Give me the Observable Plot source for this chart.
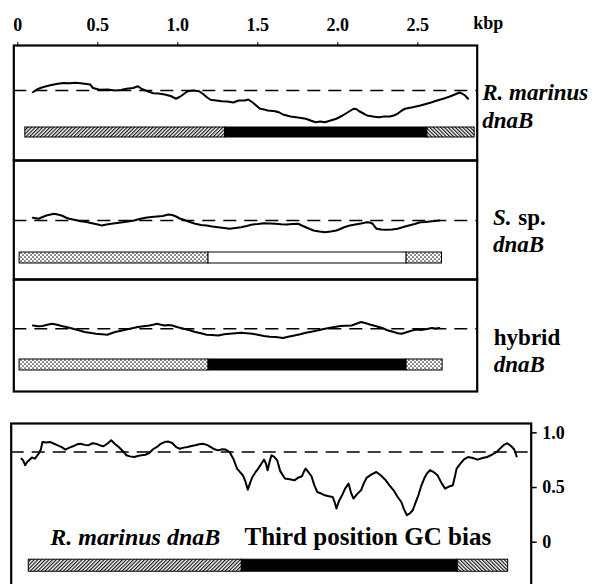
<!DOCTYPE html>
<html><head><meta charset="utf-8">
<script src="https://cdn.jsdelivr.net/npm/d3@7"></script>
<script src="https://cdn.jsdelivr.net/npm/@observablehq/plot@0.6"></script>
<style>
body{margin:0;background:#fff}
#wrap{position:relative;width:595px;height:584px;overflow:hidden;background:#fff}
#wrap svg{position:absolute;left:0;overflow:visible;background:transparent}
</style></head><body>
<svg width="0" height="0" style="position:absolute"><defs>
<pattern id="hatchF" patternUnits="userSpaceOnUse" width="2.6" height="2.6" patternTransform="rotate(45)">
<rect width="2.6" height="2.6" fill="white"/><line x1="0.6" y1="0" x2="0.6" y2="2.6" stroke="black" stroke-width="1.1"/></pattern>
<pattern id="hatchB" patternUnits="userSpaceOnUse" width="2.6" height="2.6" patternTransform="rotate(-45)">
<rect width="2.6" height="2.6" fill="white"/><line x1="0.6" y1="0" x2="0.6" y2="2.6" stroke="black" stroke-width="1.1"/></pattern>
<pattern id="dots" patternUnits="userSpaceOnUse" width="4" height="4">
<rect width="4" height="4" fill="white"/><circle cx="1" cy="1" r="0.85" fill="#222"/><circle cx="3" cy="3" r="0.85" fill="#222"/></pattern>
</defs></svg>
<div id="wrap"></div>
<script>
// ---- axis ticks ----
const kbpTicks = [0, 0.5, 1.0, 1.5, 2.0, 2.5];
const kbpTickLabels = ["0", "0.5", "1.0", "1.5", "2.0", "2.5"];
const biasTicks = [0, 0.5, 1.0];
const biasTickLabels = ["0", "0.5", "1.0"];

// ---- R. marinus dnaB GC profile ----
const rmMean = 0.64;
const rmPos = [0.094,0.11,0.13,0.15,0.178,0.21,0.25,0.285,0.321,0.36,
0.393,0.43,0.452,0.47,0.512,0.56,0.608,0.645,0.679,0.72,
0.751,0.775,0.798,0.846,0.88,0.918,0.955,0.989,1.01,1.025,
1.061,1.1,1.133,1.156,1.18,1.204,1.24,1.276,1.31,1.347,
1.38,1.419,1.44,1.466,1.49,1.514,1.54,1.562,1.609,1.635,
1.657,1.705,1.75,1.8,1.83,1.86,1.89,1.919,1.955,1.991,
2.03,2.063,2.098,2.115,2.134,2.16,2.182,2.22,2.254,2.29,
2.325,2.35,2.373,2.4,2.42,2.468,2.516,2.55,2.588,2.62,
2.659,2.7,2.731,2.76,2.778,2.795,2.814];
const rmGC = [0.633,0.640,0.647,0.652,0.657,0.662,0.667,0.670,0.669,0.671,
0.669,0.666,0.664,0.650,0.643,0.644,0.640,0.642,0.647,0.650,
0.657,0.646,0.640,0.629,0.628,0.624,0.618,0.607,0.614,0.620,
0.637,0.640,0.637,0.627,0.614,0.603,0.600,0.597,0.596,0.592,
0.600,0.600,0.604,0.593,0.580,0.567,0.564,0.560,0.557,0.552,
0.544,0.536,0.532,0.527,0.520,0.513,0.516,0.513,0.520,0.527,
0.540,0.553,0.567,0.566,0.557,0.548,0.540,0.536,0.533,0.536,
0.536,0.540,0.547,0.560,0.567,0.573,0.580,0.586,0.593,0.600,
0.607,0.616,0.624,0.632,0.627,0.620,0.607];

// ---- S. sp. dnaB GC profile ----
const ssMean = 0.48;
const ssPos = [0.094,0.13,0.155,0.178,0.226,0.25,0.274,0.3,0.321,0.36,
0.393,0.43,0.464,0.5,0.524,0.555,0.584,0.62,0.655,0.69,
0.727,0.76,0.798,0.835,0.87,0.905,0.941,0.965,0.989,1.012,
1.037,1.075,1.109,1.145,1.18,1.215,1.252,1.29,1.323,1.36,
1.395,1.43,1.466,1.5,1.538,1.575,1.609,1.645,1.681,1.715,
1.752,1.775,1.8,1.825,1.848,1.885,1.919,1.955,1.991,2.015,
2.039,2.075,2.11,2.145,2.182,2.2,2.218,2.23,2.242,2.27,
2.301,2.34,2.373,2.41,2.444,2.48,2.516,2.55,2.588,2.61,
2.635];
const ssGC = [0.491,0.487,0.494,0.500,0.507,0.504,0.500,0.492,0.487,0.482,
0.477,0.474,0.469,0.464,0.460,0.464,0.467,0.470,0.473,0.476,
0.480,0.486,0.491,0.494,0.496,0.498,0.504,0.502,0.496,0.488,
0.483,0.474,0.467,0.462,0.460,0.456,0.453,0.450,0.447,0.450,
0.453,0.458,0.464,0.466,0.469,0.468,0.467,0.465,0.464,0.466,
0.467,0.460,0.453,0.446,0.440,0.436,0.433,0.436,0.440,0.446,
0.453,0.460,0.464,0.468,0.473,0.472,0.467,0.456,0.447,0.444,
0.443,0.444,0.447,0.454,0.460,0.466,0.473,0.474,0.477,0.478,
0.480];

// ---- hybrid dnaB GC profile ----
const hyMean = 0.48;
const hyPos = [0.094,0.125,0.154,0.185,0.214,0.245,0.274,0.31,0.345,0.38,
0.417,0.45,0.488,0.525,0.56,0.585,0.608,0.645,0.679,0.715,
0.751,0.785,0.822,0.845,0.87,0.895,0.918,0.94,0.965,1.0,
1.037,1.075,1.109,1.145,1.18,1.215,1.252,1.29,1.323,1.36,
1.395,1.43,1.466,1.5,1.538,1.575,1.609,1.635,1.657,1.69,
1.729,1.765,1.8,1.835,1.872,1.905,1.943,1.98,2.015,2.05,
2.086,2.115,2.146,2.175,2.206,2.24,2.277,2.31,2.349,2.375,
2.397,2.42,2.444,2.47,2.492,2.515,2.54,2.565,2.588,2.61,
2.635];
const hyGC = [0.493,0.490,0.491,0.496,0.500,0.496,0.491,0.486,0.480,0.474,
0.467,0.464,0.460,0.458,0.456,0.462,0.467,0.472,0.477,0.482,
0.487,0.490,0.493,0.496,0.500,0.496,0.493,0.495,0.493,0.486,
0.480,0.474,0.467,0.462,0.456,0.455,0.453,0.458,0.460,0.462,
0.464,0.462,0.460,0.456,0.451,0.448,0.447,0.445,0.443,0.448,
0.453,0.458,0.464,0.468,0.473,0.478,0.483,0.487,0.491,0.492,
0.493,0.500,0.507,0.502,0.496,0.490,0.483,0.474,0.467,0.462,
0.460,0.464,0.469,0.474,0.477,0.475,0.477,0.480,0.483,0.481,
0.483];

// ---- R. marinus dnaB third position GC bias ----
const biasMean = 0.825;
const biasPos = [0.004,0.015,0.026,0.04,0.049,0.065,0.083,0.095,0.105,0.118,
0.127,0.15,0.172,0.195,0.217,0.24,0.261,0.285,0.306,0.33,
0.351,0.375,0.395,0.42,0.44,0.465,0.485,0.51,0.53,0.55,
0.574,0.6,0.619,0.64,0.664,0.69,0.708,0.73,0.753,0.775,
0.798,0.82,0.842,0.865,0.887,0.91,0.932,0.955,0.977,1.0,
1.022,1.045,1.066,1.09,1.111,1.135,1.156,1.18,1.2,1.223,
1.245,1.267,1.285,1.301,1.315,1.33,1.345,1.357,1.375,1.391,
1.41,1.425,1.436,1.446,1.458,1.469,1.485,1.502,1.52,1.547,
1.575,1.603,1.625,1.647,1.66,1.669,1.685,1.703,1.72,1.737,
1.76,1.781,1.805,1.827,1.84,1.849,1.865,1.882,1.9,1.92,
1.935,1.949,1.97,1.993,2.01,2.027,2.055,2.083,2.11,2.138,
2.16,2.184,2.205,2.229,2.245,2.262,2.28,2.296,2.312,2.329,
2.345,2.363,2.38,2.397,2.42,2.441,2.465,2.486,2.51,2.531,
2.543,2.553,2.575,2.598,2.62,2.648,2.676,2.705,2.732,2.76,
2.788,2.81,2.83,2.85,2.872,2.89,2.905];
const biasVal = [0.764,0.745,0.703,0.74,0.749,0.775,0.764,0.79,0.81,0.85,
0.916,0.912,0.916,0.9,0.886,0.87,0.847,0.865,0.877,0.895,
0.901,0.89,0.886,0.905,0.901,0.885,0.877,0.905,0.932,0.9,
0.871,0.83,0.795,0.785,0.779,0.79,0.795,0.8,0.816,0.85,
0.871,0.9,0.916,0.92,0.907,0.87,0.855,0.865,0.871,0.88,
0.886,0.895,0.901,0.89,0.871,0.85,0.84,0.85,0.847,0.825,
0.764,0.673,0.64,0.612,0.56,0.481,0.55,0.597,0.64,0.673,
0.72,0.755,0.72,0.658,0.74,0.795,0.78,0.749,0.65,0.582,
0.575,0.566,0.59,0.603,0.65,0.673,0.64,0.603,0.52,0.459,
0.445,0.429,0.42,0.414,0.36,0.308,0.38,0.429,0.49,0.536,
0.45,0.399,0.44,0.475,0.54,0.591,0.62,0.642,0.61,0.566,
0.52,0.475,0.42,0.368,0.3,0.247,0.265,0.292,0.36,0.429,
0.51,0.582,0.63,0.658,0.64,0.612,0.54,0.49,0.51,0.521,
0.6,0.673,0.719,0.76,0.779,0.77,0.755,0.77,0.779,0.8,
0.825,0.86,0.89,0.905,0.88,0.85,0.785];

// ---- gene maps (codon-usage regions) ----
const rmSegStart = [0.047, 1.295, 2.56];
const rmSegEnd   = [1.295, 2.56, 2.855];
const rmSegType  = ["hatchF", "solid", "hatchB"];
const ssSegStart = [0.011, 1.192, 2.43];
const ssSegEnd   = [1.192, 2.43, 2.651];
const ssSegType  = ["dots", "open", "dots"];
const hySegStart = [0.011, 1.192, 2.43];
const hySegEnd   = [1.192, 2.43, 2.655];
const hySegType  = ["dots", "solid", "dots"];

// ---- rendering ----
const FILL = {hatchF: "url(#hatchF)", hatchB: "url(#hatchB)", dots: "url(#dots)", solid: "black", open: "white"};
const SERIF = "'Liberation Serif', 'Times New Roman', serif";
const wrap = document.getElementById("wrap");
const rows = (pos, val) => pos.map((p, i) => ({kbp: p, v: val[i]}));
const segs = (s, e, t) => s.map((a, i) => ({start: a, end: e[i], fill: FILL[t[i]]}));
const lbl = (text, o) => Plot.text([text], {frameAnchor: "top-right", textAnchor: "start", lineAnchor: "middle",
  fontFamily: SERIF, fontSize: 23, fontWeight: "bold", ...o});

function panel({top, height, marginTop = 0, domain, pos, val, mean, seg, barY, extra = []}) {
  const svg = Plot.plot({
    width: 595, height, marginTop, marginBottom: 0, marginLeft: 13.3, marginRight: 118.3,
    x: {domain: [-0.025, 2.871], axis: null},
    y: {domain, axis: null},
    color: {type: "identity"},
    style: {background: "transparent", overflow: "visible"},
    marks: [
      Plot.ruleY([mean], {strokeDasharray: "13,8", strokeWidth: 1.5}),
      Plot.line(rows(pos, val), {x: "kbp", y: "v", strokeWidth: 2}),
      Plot.rect(seg, {x1: "start", x2: "end", y1: barY[0], y2: barY[1], fill: "fill", stroke: "black", strokeWidth: 1}),
      Plot.frame({strokeWidth: 2.2}),
      ...extra
    ]
  });
  svg.style.top = top + "px";
  wrap.appendChild(svg);
}

panel({top: 0, height: 160, marginTop: 45, domain: [0.36, 0.82], pos: rmPos, val: rmGC, mean: rmMean,
  seg: segs(rmSegStart, rmSegEnd, rmSegType), barY: [0.452, 0.492],
  extra: [
    Plot.axisX({anchor: "top", ticks: kbpTicks, tickFormat: d => kbpTickLabels[kbpTicks.indexOf(d)],
      tickSize: 4, tickPadding: 11, fontSize: 18, fontWeight: "bold", fontFamily: SERIF, label: null}),
    Plot.text(["kbp"], {frameAnchor: "top-right", textAnchor: "start", lineAnchor: "middle", dx: -4, dy: -22,
      fontFamily: SERIF, fontSize: 18, fontWeight: "bold"}),
    lbl("R. marinus", {dx: 5, dy: 47.5, fontStyle: "italic"}),
    lbl("dnaB", {dx: 5, dy: 75, fontStyle: "italic"})
  ]});

panel({top: 160, height: 119, domain: [0.244, 0.72], pos: ssPos, val: ssGC, mean: ssMean,
  seg: segs(ssSegStart, ssSegEnd, ssSegType), barY: [0.308, 0.352],
  extra: [
    lbl("S.", {dx: 15.7, dy: 57, fontStyle: "italic"}),
    lbl("sp.", {dx: 41, dy: 57}),
    lbl("dnaB", {dx: 15.7, dy: 84, fontStyle: "italic"})
  ]});

panel({top: 279, height: 112, domain: [0.229, 0.677], pos: hyPos, val: hyGC, mean: hyMean,
  seg: segs(hySegStart, hySegEnd, hySegType), barY: [0.313, 0.357],
  extra: [
    lbl("hybrid", {dx: 16.6, dy: 58.5}),
    lbl("dnaB", {dx: 16.6, dy: 85.5, fontStyle: "italic"})
  ]});

// bottom: third position GC bias
const bottom = Plot.plot({
  width: 595, height: 184, marginTop: 10, marginBottom: 0, marginLeft: 10.7, marginRight: 64.3,
  x: {domain: [-0.056, 2.99], axis: null},
  y: {domain: [-0.5055, 1.0855], axis: null},
  color: {type: "identity"},
  style: {background: "transparent", overflow: "visible"},
  marks: [
    Plot.ruleY([biasMean], {strokeDasharray: "13,8", strokeWidth: 1.5}),
    Plot.line(rows(biasPos, biasVal), {x: "kbp", y: "v", strokeWidth: 2}),
    Plot.rect(segs(rmSegStart, rmSegEnd, rmSegType), {x1: "start", x2: "end", y1: -0.16, y2: -0.27, fill: "fill", stroke: "black", strokeWidth: 1}),
    Plot.frame({strokeWidth: 2.2}),
    Plot.axisY({anchor: "right", ticks: biasTicks, tickFormat: d => biasTickLabels[biasTicks.indexOf(d)],
      tickSize: 5, tickPadding: 6, fontSize: 18, fontWeight: "bold", fontFamily: SERIF, label: null, strokeWidth: 1.5}),
    Plot.text(["R. marinus dnaB"], {frameAnchor: "top-left", textAnchor: "start", lineAnchor: "middle", dx: 39, dy: 113.7,
      fontFamily: SERIF, fontSize: 24, fontWeight: "bold", fontStyle: "italic"}),
    Plot.text(["Third position GC bias"], {frameAnchor: "top-left", textAnchor: "start", lineAnchor: "middle", dx: 233.3, dy: 113.7,
      fontFamily: SERIF, fontSize: 25, fontWeight: "bold"})
  ]
});
bottom.style.top = "413px";
wrap.appendChild(bottom);
</script></body></html>
